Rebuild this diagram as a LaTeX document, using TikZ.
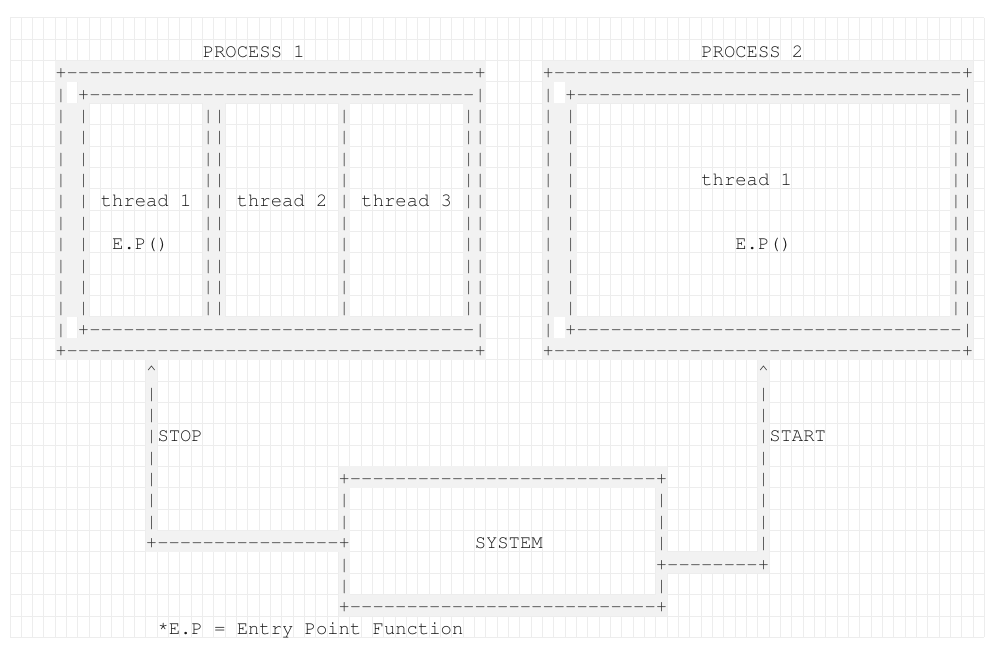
\documentclass[tikz,border=0pt]{standalone}
\usepackage[T1,TU]{fontenc}
\usepackage{tikz}

\newcommand\asciifont{\fontencoding{T1}\fontfamily{pcr}\fontseries{m}\fontshape{n}\fontsize{18.88pt}{21.5pt}\selectfont}

\tikzset{
  gridline/.style={draw=black!7, line width=1pt},
  band/.style={fill=black!5},
  glyph/.style={font=\asciifont, text=black!80, inner sep=0pt, anchor=base},
  caption/.style={font=\asciifont, text=black!90, inner sep=0pt, anchor=base west},
}

% one character in cell (col,row): grey band on the first pass, glyph on the second
\newcommand\ascband[3]{\fill[band] (#1,#2) rectangle ++(1,1);}
\newcommand\ascglyph[3]{\node[glyph] (c#1-#2) at (#1+0.5,#2+0.85) {#3};}
% runs of - and |
\newcommand\hrun[3]{\foreach \c in {#2,...,#3}{\asc{\c}{#1}{-}}}
\newcommand\vrun[3]{\foreach \r in {#2,...,#3}{\asc{#1}{\r}{|}}}

\newcommand\asciiart{%
  % PROCESS 1
  \asc{4}{2}{+} \hrun{2}{5}{40} \asc{41}{2}{+}
  \vrun{4}{3}{14} \vrun{41}{3}{14}
  \asc{4}{15}{+} \hrun{15}{5}{40} \asc{41}{15}{+}
  \asc{6}{3}{+} \hrun{3}{7}{40}
  \vrun{6}{4}{13} \vrun{40}{4}{13}
  \asc{6}{14}{+} \hrun{14}{7}{40}
  \vrun{17}{4}{13} \vrun{18}{4}{13} \vrun{29}{4}{13}
  % PROCESS 2
  \asc{47}{2}{+} \hrun{2}{48}{83} \asc{84}{2}{+}
  \vrun{47}{3}{14} \vrun{84}{3}{14}
  \asc{47}{15}{+} \hrun{15}{48}{83} \asc{84}{15}{+}
  \asc{49}{3}{+} \hrun{3}{50}{83}
  \vrun{49}{4}{13} \vrun{83}{4}{13}
  \asc{49}{14}{+} \hrun{14}{50}{83}
  % SYSTEM
  \asc{29}{21}{+} \hrun{21}{30}{56} \asc{57}{21}{+}
  \vrun{29}{22}{23} \asc{29}{24}{+} \vrun{29}{25}{26}
  \vrun{57}{22}{24} \asc{57}{25}{+} \asc{57}{26}{|}
  \asc{29}{27}{+} \hrun{27}{30}{56} \asc{57}{27}{+}
  % STOP and START
  \asc{12}{16}{\textasciicircum} \vrun{12}{17}{23} \asc{12}{24}{+} \hrun{24}{13}{28}
  \asc{66}{16}{\textasciicircum} \vrun{66}{17}{24} \asc{66}{25}{+} \hrun{25}{58}{65}
}

\begin{document}
\begin{tikzpicture}[x=11.33pt, y=-21.36pt]
  \path[use as bounding box, fill=white] (-0.883,-0.838) rectangle (86.67,29.405);
  \foreach \c in {0,...,86} \draw[gridline] (\c,0) -- (\c,29);
  \foreach \r in {0,...,29} \draw[gridline] (0,\r) -- (86,\r);

  \let\asc\ascband \asciiart
  % gaps between double bars
  \foreach \c in {5,48} \fill[band] (\c,4) rectangle (\c+1,14);
  \let\asc\ascglyph \asciiart

  \node[caption] (title1) at (17,1.85) {PROCESS 1};
  \node[caption] (title2) at (61,1.85) {PROCESS 2};
  \node[caption] (p1t1) at (8,8.85) {thread 1};
  \node[caption] (p1t2) at (20,8.85) {thread 2};
  \node[caption] (p1t3) at (31,8.85) {thread 3};
  \node[caption] (p1ep) at (9,10.85) {E.P()};
  \node[caption] (p2t1) at (61,7.85) {thread 1};
  \node[caption] (p2ep) at (64,10.85) {E.P()};
  \node[caption] (stop) at (13,19.85) {STOP};
  \node[caption] (start) at (67,19.85) {START};
  \node[caption] (system) at (41,24.85) {SYSTEM};
  \node[caption] (note) at (13,28.85) {\raisebox{3pt}{*}E.P = Entry Point Function};
\end{tikzpicture}
\end{document}
